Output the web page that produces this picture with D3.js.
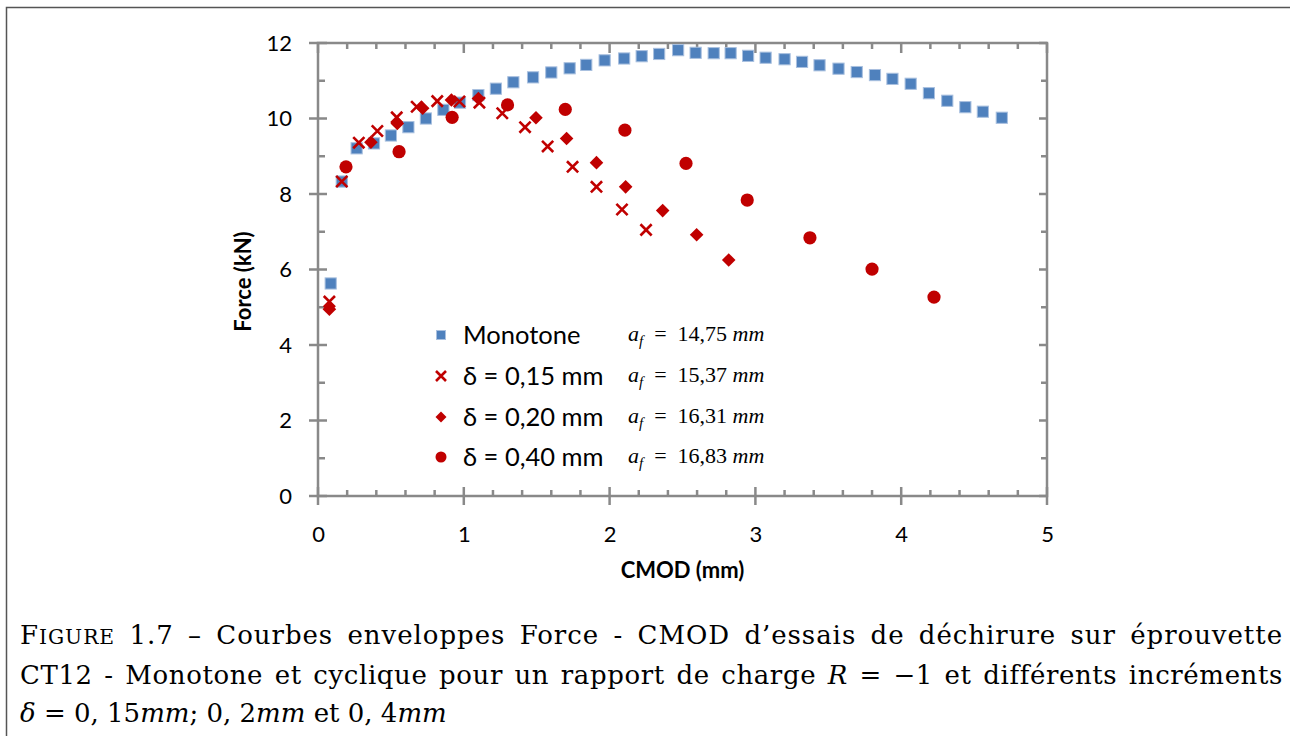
<!DOCTYPE html>
<html><head><meta charset="utf-8">
<script src="https://cdn.jsdelivr.net/npm/d3@7"></script>
<style>body{margin:0;background:#fff}svg{display:block}</style>
</head><body>
<svg id="c" width="1290" height="736"></svg>
<script>
// ---- data ----
const monoX = [0.087,0.163,0.265,0.384,0.50,0.62,0.74,0.86,0.974,1.10,1.22,1.34,1.475,1.60,1.726,1.84,1.966,2.10,2.22,2.34,2.47,2.59,2.714,2.83,2.95,3.07,3.20,3.32,3.44,3.57,3.695,3.82,3.94,4.065,4.19,4.316,4.44,4.56,4.69];
const monoY = [5.63,8.33,9.21,9.34,9.55,9.77,10.0,10.23,10.42,10.62,10.79,10.96,11.09,11.22,11.33,11.42,11.54,11.59,11.65,11.71,11.81,11.74,11.73,11.73,11.66,11.61,11.57,11.50,11.41,11.32,11.23,11.15,11.05,10.92,10.67,10.47,10.30,10.18,10.02];
const d15X = [0.078,0.163,0.28,0.407,0.54,0.677,0.818,0.97,1.107,1.264,1.42,1.575,1.746,1.91,2.085,2.25];
const d15Y = [5.15,8.33,9.36,9.67,10.03,10.31,10.46,10.45,10.42,10.14,9.77,9.26,8.72,8.19,7.59,7.05];
const d20X = [0.078,0.363,0.544,0.718,0.915,1.10,1.495,1.705,1.91,2.11,2.364,2.597,2.817];
const d20Y = [4.95,9.37,9.87,10.27,10.49,10.53,10.02,9.47,8.83,8.19,7.56,6.92,6.25];
const d40X = [0.192,0.556,0.92,1.30,1.696,2.105,2.524,2.944,3.374,3.80,4.225];
const d40Y = [8.72,9.12,10.03,10.36,10.24,9.69,8.81,7.84,6.84,6.01,5.27];
const seriesNames = ["Monotone","δ = 0,15 mm","δ = 0,20 mm","δ = 0,40 mm"];
const afValues = ["14,75","15,37","16,31","16,83"];
const xTicks = [0,1,2,3,4,5];
const yTicks = [0,2,4,6,8,10,12];
const xTitle = "CMOD (mm)";
const yTitle = "Force (kN)";

// ---- layout ----
const svg = d3.select("#c");
const L = 318, R = 1047, T = 43, B = 496;
const x = d3.scaleLinear().domain([0,5]).range([L,R]);
const y = d3.scaleLinear().domain([0,12]).range([B,T]);
const axisCol = "#898989", blue = "#4F81BD", red = "#C00000";

// outer frame
svg.append("path").attr("d","M6.5,736 L6.5,7.5 L1290,7.5").attr("fill","none").attr("stroke","#555").attr("stroke-width",1.5);

// plot box
svg.append("rect").attr("x",L).attr("y",T).attr("width",R-L).attr("height",B-T)
  .attr("fill","none").attr("stroke",axisCol).attr("stroke-width",2.5);

const g = svg.append("g").attr("stroke",axisCol).attr("stroke-width",2.5);
const xMinor = d3.range(0,5.0001,0.2);
const yMinor = d3.range(0,12.0001,1);
xMinor.forEach(v=>{
  const major = Math.abs(v-Math.round(v))<1e-6;
  const xp = x(v);
  g.append("line").attr("x1",xp).attr("x2",xp).attr("y1",B-(major?9:6)).attr("y2",B+(major?9:0));
  g.append("line").attr("x1",xp).attr("x2",xp).attr("y1",T).attr("y2",T+(major?10:6));
});
yMinor.forEach(v=>{
  const major = v%2===0;
  const yp = y(v);
  g.append("line").attr("y1",yp).attr("y2",yp).attr("x1",L-(major?9:0)).attr("x2",L+(major?9:7));
  g.append("line").attr("y1",yp).attr("y2",yp).attr("x1",R).attr("x2",R-(major?8:6));
});

// tick labels via d3 axes
const font = "Lato, 'Open Sans', sans-serif";
const ax = svg.append("g").attr("transform",`translate(0,${B})`)
  .call(d3.axisBottom(x).tickValues(xTicks).tickFormat(d3.format("d")).tickSize(0).tickPadding(30));
ax.select(".domain").remove();
ax.selectAll("text").attr("font-family",font).attr("font-size",22).attr("fill","#000");
const ay = svg.append("g").attr("transform",`translate(${L},0)`)
  .call(d3.axisLeft(y).tickValues(yTicks).tickFormat(d3.format("d")).tickSize(0).tickPadding(26));
ay.select(".domain").remove();
ay.selectAll("text").attr("font-family",font).attr("font-size",22).attr("fill","#000");

svg.append("text").attr("x",(L+R)/2).attr("y",578).attr("text-anchor","middle")
  .attr("font-family",font).attr("font-weight","bold").attr("font-size",22).text(xTitle);
svg.append("text").attr("transform",`translate(251,${(T+B)/2+12}) rotate(-90)`).attr("text-anchor","middle")
  .attr("font-family",font).attr("font-weight","bold").attr("font-size",22).text(yTitle);

// markers
function crossPath(s){return `M${-s},${-s}L${s},${s}M${-s},${s}L${s},${-s}`;}
function diamondPath(s){return `M0,${-s}L${s},0L0,${s}L${-s},0Z`;}
const drawers = [
  (sel,sz)=>sel.append("rect").attr("x",-sz).attr("y",-sz).attr("width",2*sz).attr("height",2*sz).attr("fill",blue).attr("stroke","#A9C0DF").attr("stroke-width",1),
  (sel,sz)=>sel.append("path").attr("d",crossPath(sz)).attr("stroke",red).attr("stroke-width",2.6).attr("fill","none"),
  (sel,sz)=>sel.append("path").attr("d",diamondPath(sz)).attr("fill",red),
  (sel,sz)=>sel.append("circle").attr("r",sz).attr("fill",red)
];
const sizes = [5.6,5.6,6.8,6.6];
const legSizes = [4.5,5,5.5,5.5];
const series = [[monoX,monoY],[d15X,d15Y],[d20X,d20Y],[d40X,d40Y]];
series.forEach(([xs,ys],i)=>{
  const pts = xs.map((v,j)=>[v,ys[j]]);
  svg.append("g").selectAll("g").data(pts).join("g")
    .attr("transform",d=>`translate(${x(d[0])},${y(d[1])})`)
    .each(function(){drawers[i](d3.select(this),sizes[i]);});
});

// legend
const legY = [335,376,417,457];
seriesNames.forEach((n,i)=>{
  const lg = svg.append("g").attr("transform",`translate(441,${legY[i]})`);
  drawers[i](lg,legSizes[i]);
  lg.append("text").attr("x",22).attr("y",8.5).attr("font-family",font).attr("font-size",25.5).text(n);
  const t = lg.append("text").attr("x",187).attr("y",6).attr("font-family","'Liberation Serif', serif").attr("font-size",22).attr("xml:space","preserve");
  t.append("tspan").attr("font-style","italic").text("a");
  t.append("tspan").attr("font-style","italic").attr("font-size",15).attr("dy",5).text("f");
  t.append("tspan").attr("dy",-5).text("  =  "+afValues[i]+" ");
  t.append("tspan").attr("font-style","italic").text("mm");
});

// caption
const capFont = "'DejaVu Serif', serif";
const capSize = 26;
const lines = [
  [["F",{}],["IGURE",{size:0.78}],[" 1.7 – Courbes enveloppes Force - CMOD d’essais de déchirure sur éprouvette",{}]],
  [["CT12 - Monotone et cyclique pour un rapport de charge ",{}],["R",{it:1}],[" = −1 et différents incréments",{}]],
  [["δ",{it:1}],[" = 0, 15",{}],["mm",{it:1}],["; 0, 2",{}],["mm",{it:1}],[" et 0, 4",{}],["mm",{it:1}]]
];
const capY = [644,684,722];
const justify = [true,true,false];
lines.forEach((ln,i)=>{
  const t = svg.append("text").attr("x",20).attr("y",capY[i]).attr("font-family",capFont).attr("font-size",capSize).attr("xml:space","preserve");
  ln.forEach(([s,o])=>{
    const ts = t.append("tspan").text(s);
    if(o.size) ts.attr("font-size",capSize*o.size);
    if(o.it) ts.attr("font-style","italic");
  });
  if(justify[i]){
    const str = ln.map(d=>d[0]).join("");
    const w = t.node().getComputedTextLength();
    const extra = 1263 - w;
    if(extra<0){ t.attr("textLength",1263).attr("lengthAdjust","spacingAndGlyphs"); }
    else {
      const spaces = str.split(" ").length-1;
      const ls = extra*0.55/(str.length-1);
      t.attr("letter-spacing",ls);
      const w2 = t.node().getComputedTextLength();
      t.attr("word-spacing",(1263-w2)/spaces);
    }
  }
});
</script>
</body></html>
